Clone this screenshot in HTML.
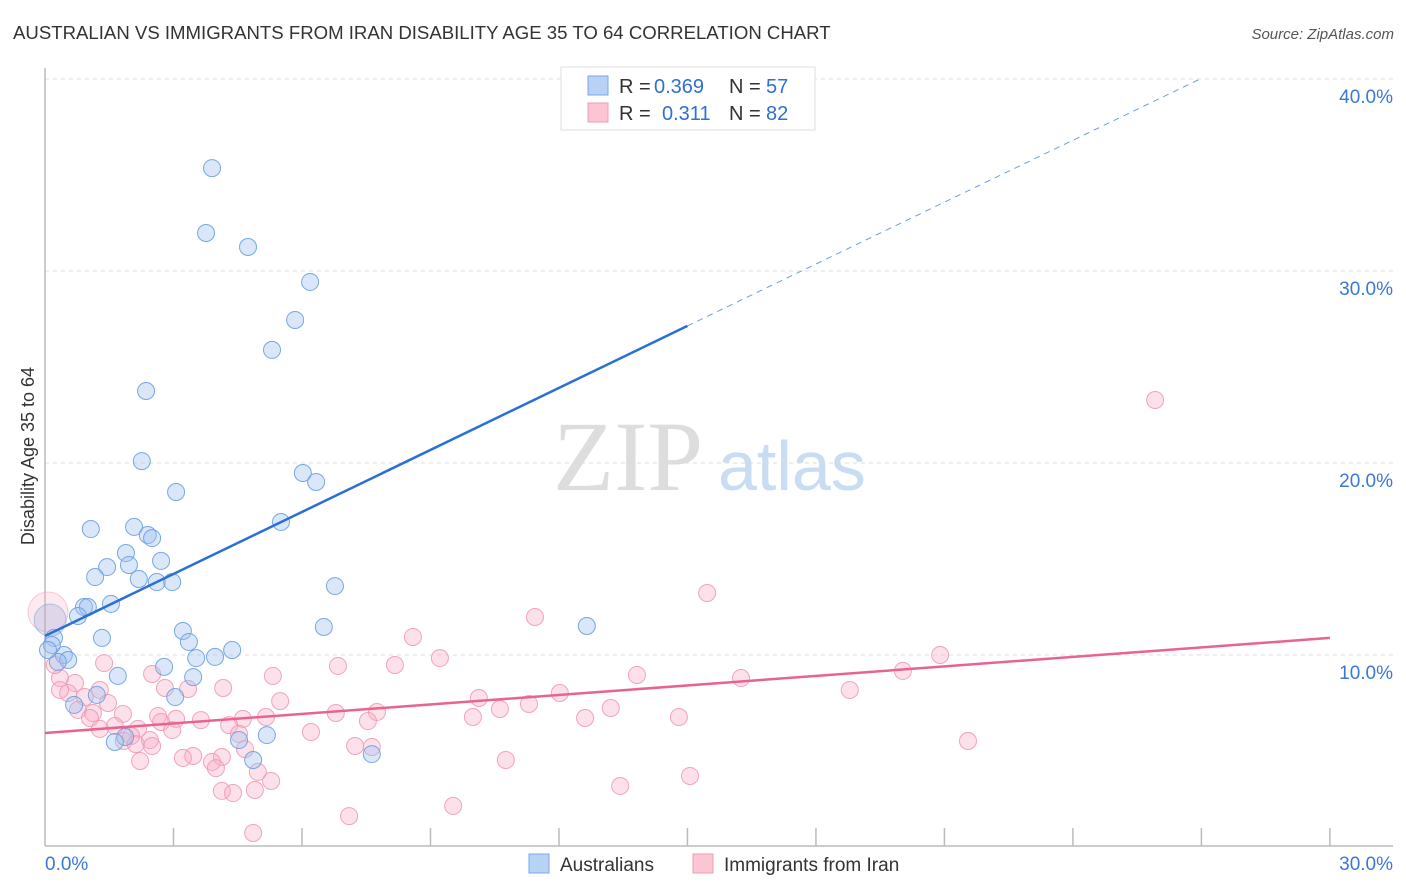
<!DOCTYPE html>
<html><head><meta charset="utf-8"><style>
body{margin:0;background:#fff;font-family:"Liberation Sans",sans-serif}
svg{display:block}
</style></head><body>
<svg id="chart" width="1406" height="892">
<text x="13" y="39" font-size="18.6" fill="#333">AUSTRALIAN VS IMMIGRANTS FROM IRAN DISABILITY AGE 35 TO 64 CORRELATION CHART</text>
<text x="1394" y="39" font-size="15" fill="#555" text-anchor="end" font-style="italic">Source: ZipAtlas.com</text>
<text x="34" y="456" font-size="18" fill="#333" text-anchor="middle" transform="rotate(-90 34 456)">Disability Age 35 to 64</text>
<text x="553" y="490" font-size="100" fill="#ddd" font-family="Liberation Serif,serif">ZIP</text>
<text x="718" y="490" font-size="70" fill="#c8dcf3">atlas</text>
<g id="grid"></g><g id="axes"></g><g id="pts"></g><g id="lines"></g>
<g>
<rect x="561" y="67" width="254" height="63" fill="#fff" stroke="#ddd"/>
<rect x="588" y="76" width="20" height="19" fill="#b8d2f5" stroke="#7aa8e5"/>
<rect x="588" y="103" width="20" height="19" fill="#fbc5d3" stroke="#f09ab2"/>
<text x="619" y="93" font-size="20" fill="#333">R =</text>
<text x="654" y="93" font-size="20" fill="#2f6fd6">0.369</text>
<text x="729" y="93" font-size="20" fill="#333">N =</text>
<text x="766" y="93" font-size="20" fill="#2f6fd6">57</text>
<text x="619" y="120" font-size="20" fill="#333">R =</text>
<text x="662" y="120" font-size="20" fill="#2f6fd6">0.311</text>
<text x="729" y="120" font-size="20" fill="#333">N =</text>
<text x="766" y="120" font-size="20" fill="#2f6fd6">82</text>
</g>
<g>
<rect x="529" y="854" width="20" height="19" fill="#b8d2f5" stroke="#7aa8e5"/>
<text x="560" y="871" font-size="19" fill="#333">Australians</text>
<rect x="693" y="854" width="20" height="19" fill="#fbc5d3" stroke="#f09ab2"/>
<text x="724" y="871" font-size="19" fill="#333">Immigrants from Iran</text>
</g>
</svg>
<script>
const blueX=[3.90,3.76,4.74,6.19,5.84,5.30,2.36,2.26,3.06,6.02,6.33,5.51,1.07,2.08,2.40,2.50,1.89,1.45,1.96,2.71,1.17,2.19,2.61,2.97,6.77,1.54,0.91,1.00,0.77,3.22,6.51,12.65,1.33,3.36,0.21,4.37,3.53,3.97,0.44,0.54,0.30,2.78,1.70,3.46,1.21,3.04,0.68,1.87,1.63,4.53,5.18,4.86,7.63,0.12,0.16,12.33,0.07];
const blueY=[35.36,31.98,31.25,29.43,27.45,25.89,23.75,20.10,18.49,19.48,19.01,16.93,16.56,16.67,16.25,16.09,15.31,14.58,14.69,14.90,14.06,13.96,13.80,13.80,13.59,12.66,12.50,12.50,12.03,11.25,11.46,11.51,10.89,10.68,10.89,10.26,9.84,9.90,10.00,9.74,9.64,9.38,8.91,8.85,7.92,7.81,7.40,5.73,5.47,5.57,5.83,4.53,4.84,11.82,10.52,38.65,10.26];
const pinkX=[25.92,15.46,11.44,8.59,20.90,9.22,1.38,6.84,8.17,5.32,13.82,2.50,20.03,0.35,0.70,16.25,3.34,4.16,18.79,0.54,0.93,12.02,5.49,1.47,10.13,11.30,13.21,10.62,0.77,1.12,7.75,6.79,1.82,1.05,2.64,5.16,4.62,3.64,9.99,12.61,14.80,7.54,3.06,1.63,2.71,4.30,2.17,1.28,4.53,2.01,6.21,2.97,2.45,7.24,7.63,1.84,2.12,2.50,4.67,3.46,3.22,4.13,3.90,2.22,21.55,10.76,4.97,15.06,3.99,5.28,4.13,4.39,4.90,13.43,9.53,7.10,4.86,0.35,1.28,0.07,0.23,2.80];
const pinkY=[23.28,13.23,11.98,10.94,10.00,9.84,9.58,9.43,9.48,8.91,8.96,9.01,9.17,8.80,8.54,8.80,8.23,8.28,8.18,8.02,7.81,8.02,7.60,7.50,7.76,7.45,7.24,7.19,7.14,6.98,7.03,6.98,6.93,6.72,6.82,6.77,6.67,6.61,6.77,6.72,6.77,6.56,6.67,6.30,6.51,6.35,6.15,6.15,5.89,5.78,5.99,6.09,5.57,5.26,5.21,5.52,5.36,5.26,5.10,4.74,4.64,4.69,4.43,4.48,5.52,4.53,3.91,3.70,4.11,3.44,2.92,2.81,2.97,3.18,2.14,1.61,0.73,8.18,8.18,12.24,9.48,8.28];
const yTicks=[10,20,30,40];
const yTickLabels=["10.0%","20.0%","30.0%","40.0%"];
const blueFit=[10.99,27.14,40]; const blueFitX=[0,15,26.97];
const pinkFit=[5.94,10.89]; const pinkFitX=[0,30];
const NS="http://www.w3.org/2000/svg";
const sx=v=>45+v*42.83, sy=v=>847-v*19.2;
function mk(tag,attrs,parent){const e=document.createElementNS(NS,tag);for(const k in attrs)e.setAttribute(k,attrs[k]);parent.appendChild(e);return e;}
const grid=document.getElementById('grid'),axes=document.getElementById('axes'),pts=document.getElementById('pts'),lines=document.getElementById('lines');
yTicks.forEach((t,i)=>{
 const l=mk('line',{x1:45,x2:1393,y1:sy(t),y2:sy(t),stroke:'#ddd','stroke-dasharray':'4,4'},grid);
 
 
 const tx=mk('text',{x:1393,y:sy(t)+24,'font-size':19,fill:'#3a78d6','text-anchor':'end'},grid);tx.textContent=yTickLabels[i];
 
 
});
let a=mk('line',{x1:45,x2:45,y1:68,y2:846,stroke:'#bbb','stroke-width':1.5},axes);


a=mk('line',{x1:45,x2:1393,y1:846,y2:846,stroke:'#bbb','stroke-width':1.5},axes);


for(let i=1;i<=10;i++){const t=mk('line',{x1:sx(i*3),x2:sx(i*3),y1:828,y2:846,stroke:'#bbb','stroke-width':1.5},axes);
 
 }
let xl=mk('text',{x:45,y:870,'font-size':19,fill:'#3a78d6'},axes);xl.textContent='0.0%';


xl=mk('text',{x:1393,y:870,'font-size':19,fill:'#3a78d6','text-anchor':'end'},axes);xl.textContent='30.0%';


function dots(X,Y,fill,stroke,name,bigIdx,bigFill){X.forEach((x,i)=>{
 const big=i===bigIdx;
 const c=mk('circle',{cx:sx(x),cy:sy(Y[i]),r:big?(name==='pink-point'?20:16):8.5,fill:big?bigFill:fill,stroke:stroke,'stroke-width':1,'stroke-opacity':big?0.5:0.9},pts);
 
 });}
dots(pinkX,pinkY,'rgba(248,170,195,0.35)','#f09ab2','pink-point',79,'rgba(248,170,195,0.25)');
dots(blueX,blueY,'rgba(160,196,240,0.4)','#6a9fe0','blue-point',53,'rgba(160,170,220,0.3)');
let ln=mk('line',{x1:sx(blueFitX[0]),y1:sy(blueFit[0]),x2:sx(blueFitX[1]),y2:sy(blueFit[1]),stroke:'#2a6fd6','stroke-width':2.5},lines);


ln=mk('line',{x1:sx(blueFitX[1]),y1:sy(blueFit[1]),x2:sx(blueFitX[2]),y2:sy(blueFit[2]),stroke:'#6a9fe0','stroke-width':1,'stroke-dasharray':'6,5'},lines);


ln=mk('line',{x1:sx(pinkFitX[0]),y1:sy(pinkFit[0]),x2:sx(pinkFitX[1]),y2:sy(pinkFit[1]),stroke:'#e8648e','stroke-width':2.5},lines);


</script>
</body></html>
